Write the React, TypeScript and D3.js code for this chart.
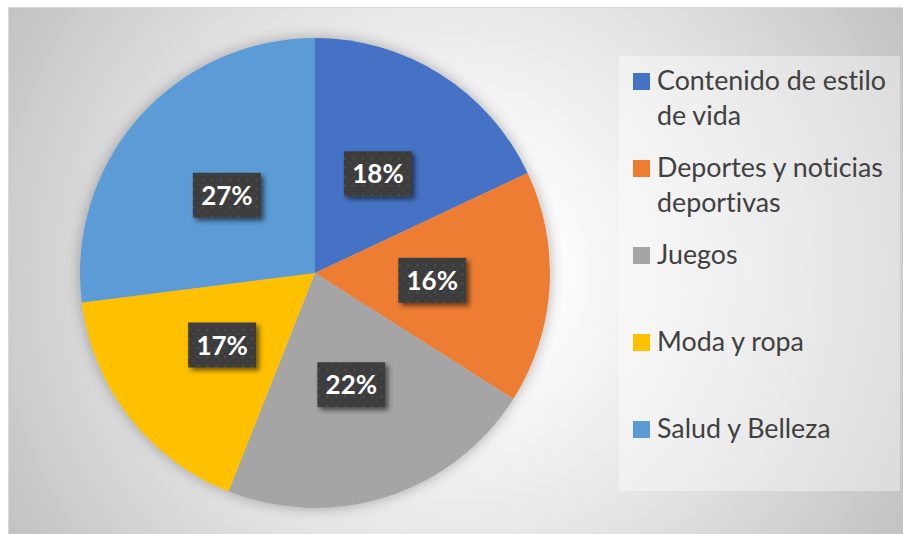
import React from "react";
import * as d3 from "d3";

const categories = [
  "Contenido de estilo de vida",
  "Deportes y noticias deportivas",
  "Juegos",
  "Moda y ropa",
  "Salud y Belleza",
];
const legendLines = [
  ["Contenido de estilo", "de vida"],
  ["Deportes y noticias", "deportivas"],
  ["Juegos"],
  ["Moda y ropa"],
  ["Salud y Belleza"],
];
const values = [18, 16, 22, 17, 27];
const colors = ["#4472C4", "#ED7D31", "#A5A5A5", "#FFC000", "#5B9BD5"];

const W = 903;
const H = 534;
const cx = 315;
const cy = 273;
const R = 235;

export default function App() {
  const pie = d3.pie<number>().sort(null).value((d) => d);
  const arcs = pie(values);
  const arcGen = d3.arc<d3.PieArcDatum<number>>().innerRadius(0).outerRadius(R);
  const total = d3.sum(values);
  const fmt = d3.format(".0%");

  const legendY = d3
    .scaleLinear()
    .domain([0, categories.length - 1])
    .range([90, 438]);

  return (
    <svg
      width={W}
      height={H}
      style={{ position: "absolute", left: 0, top: 0, fontVariantLigatures: "none" }}
    >
      <defs>
        <radialGradient
          id="bg"
          gradientUnits="userSpaceOnUse"
          cx={456}
          cy={270}
          r={540}
        >
          <stop offset="0" stopColor="#ffffff" />
          <stop offset="0.2" stopColor="#fbfbfb" />
          <stop offset="0.55" stopColor="#e4e4e4" />
          <stop offset="0.96" stopColor="#c2c2c2" />
          <stop offset="1" stopColor="#c0c0c0" />
        </radialGradient>
        <pattern
          id="dots"
          width={9}
          height={9}
          patternUnits="userSpaceOnUse"
        >
          <rect width={9} height={9} fill="#3d3d3d" />
          <rect x={2} y={2} width={2} height={2} fill="#505050" />
          <rect x={6.5} y={6.5} width={1.5} height={1.5} fill="#474747" />
        </pattern>
        <filter id="pieShadow" x="-20%" y="-20%" width="140%" height="140%">
          <feDropShadow dx={0} dy={0} stdDeviation={7} floodColor="#000" floodOpacity={0.3} />
        </filter>
        <filter id="boxShadow" x="-30%" y="-30%" width="160%" height="160%">
          <feDropShadow dx={3} dy={3} stdDeviation={2.5} floodColor="#000" floodOpacity={0.55} />
        </filter>
      </defs>

      <rect x={0} y={0} width={W} height={H} fill="#ffffff" />
      <rect x={8.5} y={7.5} width={W + 10} height={H + 10} fill="url(#bg)" stroke="#d9d9d9" strokeWidth={1} />

      <g transform={`translate(${cx},${cy})`} filter="url(#pieShadow)">
        {arcs.map((a, i) => (
          <path key={i} d={arcGen(a) as string} fill={colors[i]} />
        ))}
      </g>

      <g transform={`translate(${cx},${cy})`}>
        {arcs.map((a, i) => {
          const [lx, ly] = arcGen.centroid(a);
          return (
            <g key={i} transform={`translate(${lx},${ly})`}>
              <rect
                x={-34}
                y={-22.5}
                width={68}
                height={45}
                fill="url(#dots)"
                filter="url(#boxShadow)"
              />
              <text
                x={0}
                y={9.5}
                textAnchor="middle"
                fill="#ffffff"
                fontFamily="Lato, 'Open Sans', sans-serif"
                fontWeight="bold"
                fontSize={26}
              >
                {fmt(values[i] / total)}
              </text>
            </g>
          );
        })}
      </g>

      <rect x={619} y={56} width={281} height={435} fill="#ffffff" fillOpacity={0.38} />
      {legendLines.map((lines, i) => {
        const by = legendY(i);
        return (
          <g key={i}>
            <rect x={633} y={by - 17} width={17} height={17} fill={colors[i]} />
            <text
              x={657}
              y={by}
              fill="#404040"
              fontFamily="Lato, 'Open Sans', sans-serif"
              fontSize={26.8}
            >
              {lines.map((ln, j) => (
                <tspan key={j} x={657} dy={j === 0 ? 0 : 35}>
                  {ln}
                </tspan>
              ))}
            </text>
          </g>
        );
      })}
    </svg>
  );
}
